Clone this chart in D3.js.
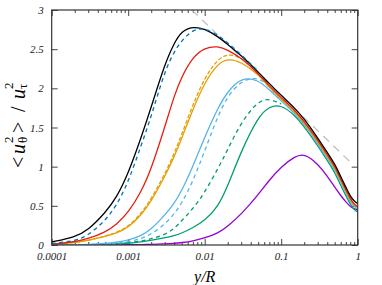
<!DOCTYPE html>
<html>
<head>
<meta charset="utf-8">
<script src="https://cdn.jsdelivr.net/npm/d3@7"></script>
<style>
  body { margin: 0; background: #fff; }
  svg { display: block; }
  .tick text { font-family: "Liberation Serif", serif; font-style: italic; font-size: 11px; fill: #222; }
  .axis path { display: none; }
  .axis line { stroke: #444; }
  .curve { fill: none; stroke-width: 1.3; }
</style>
</head>
<body>
<div id="plot"></div>
<script>
// y/R positions (shared by all curves)
const yR = [1e-4, 2e-4, 3e-4, 5e-4, 7e-4, 1e-3, 1.5e-3, 2e-3, 3e-3, 4e-3, 5e-3, 7e-3,
            0.01, 0.015, 0.02, 0.03, 0.05, 0.07, 0.1, 0.15, 0.2, 0.3, 0.4, 0.5, 0.6, 0.7, 0.8, 0.9, 1];

// <u_theta^2>/u_tau^2, one array per curve (null = not drawn)
const purple = [0, 0, 0, 0.001, 0.002, 0.003, 0.005, 0.008, 0.013, 0.02, 0.03, 0.05,
                0.09, 0.15, 0.24, 0.39, 0.64, 0.83, 1.00, 1.13, 1.17, 1.04, 0.88, 0.74, 0.63, 0.55, 0.49, 0.46, 0.45];
const green = [0, 0.001, 0.003, 0.008, 0.013, 0.02, 0.04, 0.06, 0.09, 0.12, 0.15, 0.22,
               0.31, 0.49, 0.75, 1.20, 1.64, 1.77, 1.79, 1.66, 1.51, 1.27, 1.08, 0.93, 0.76, 0.63, 0.52, 0.45, 0.42];
const greenDash = [0, 0.002, 0.004, 0.01, 0.018, 0.03, 0.05, 0.08, 0.13, 0.21, 0.31, 0.46,
                   0.67, 0.98, 1.22, 1.57, 1.84, 1.87, 1.80, null, null, null, null, null, null, null, null, null, null];
const lightBlue = [0, 0.003, 0.008, 0.02, 0.035, 0.06, 0.12, 0.20, 0.38, 0.53, 0.69, 1.00,
                   1.38, 1.76, 1.96, 2.14, 2.11, 1.98, 1.84, 1.68, 1.54, 1.30, 1.11, 0.97, 0.80, 0.67, 0.55, 0.49, 0.46];
const lightBlueDash = [0, 0.002, 0.005, 0.012, 0.02, 0.04, 0.08, 0.14, 0.26, 0.40, 0.53, 0.81,
                       1.20, 1.66, 1.90, 2.10, 2.15, 2.02, 1.85, null, null, null, null, null, null, null, null, null, null];
const orange = [0.01, 0.03, 0.06, 0.11, 0.15, 0.22, 0.39, 0.56, 0.87, 1.13, 1.36, 1.73,
                2.08, 2.32, 2.38, 2.34, 2.18, 2.01, 1.86, 1.70, 1.56, 1.32, 1.13, 0.99, 0.82, 0.69, 0.57, 0.51, 0.48];
const orangeDash = [0.01, 0.03, 0.06, 0.11, 0.16, 0.23, 0.41, 0.59, 0.90, 1.17, 1.41, 1.79,
                    2.14, 2.38, 2.44, 2.40, 2.21, null, null, null, null, null, null, null, null, null, null, null, null];
const red = [0.01, 0.04, 0.08, 0.16, 0.26, 0.41, 0.69, 0.97, 1.50, 1.91, 2.15, 2.40,
             2.52, 2.54, 2.49, 2.39, 2.19, 2.03, 1.88, 1.72, 1.58, 1.34, 1.15, 1.01, 0.84, 0.71, 0.59, 0.52, 0.49];
const black = [0.04, 0.10, 0.19, 0.41, 0.60, 0.91, 1.39, 1.76, 2.31, 2.58, 2.73, 2.79,
               2.76, 2.66, 2.56, 2.42, 2.21, 2.06, 1.91, 1.75, 1.61, 1.37, 1.18, 1.04, 0.87, 0.74, 0.62, 0.56, 0.53];
const blueDash = [0.02, 0.05, 0.12, 0.31, 0.50, 0.80, 1.29, 1.64, 2.22, 2.47, 2.61, 2.75,
                  2.77, 2.68, 2.58, 2.43, 2.22, null, null, null, null, null, null, null, null, null, null, null, null];

// log-law reference line, end points
const logLawX = [0.0068, 0.8];
const logLawY = [3.0, 1.06];

const xTicks = [1e-4, 1e-3, 1e-2, 1e-1, 1];
const xTickLabels = ["0.0001", "0.001", "0.01", "0.1", "1"];
const yTicks = [0, 0.5, 1, 1.5, 2, 2.5, 3];
const yTickLabels = ["0", "0.5", "1", "1.5", "2", "2.5", "3"];

const W = 382, H = 285;
const margin = {top: 10, right: 24.3, bottom: 40, left: 51.7};
const width = W - margin.left - margin.right,
      height = H - margin.top - margin.bottom;

const svg = d3.select("#plot").append("svg")
    .attr("width", W).attr("height", H);

const g = svg.append("g")
    .attr("transform", `translate(${margin.left},${margin.top})`);

const x = d3.scaleLog().domain([1e-4, 1]).range([0, width]);
const y = d3.scaleLinear().domain([0, 3]).range([height, 0]);

// minor ticks on the log axis
const minor = [];
for (let d = 1e-4; d < 1; d *= 10) for (let k = 2; k <= 9; k++) minor.push(d * k);

svg.append("defs").append("clipPath").attr("id", "clip")
  .append("rect").attr("width", width).attr("height", height);

// axes, ticks pointing inwards on all four sides
g.append("g").attr("class", "axis").attr("transform", `translate(0,${height})`)
  .call(d3.axisBottom(x).tickValues(xTicks).tickSize(-6).tickPadding(7)
    .tickFormat((d, i) => xTickLabels[i]));
g.append("g").attr("class", "axis").attr("transform", `translate(0,${height})`)
  .call(d3.axisBottom(x).tickValues(minor).tickSize(-3).tickFormat(""));
g.append("g").attr("class", "axis")
  .call(d3.axisTop(x).tickValues(xTicks).tickSize(-6).tickFormat(""));
g.append("g").attr("class", "axis")
  .call(d3.axisTop(x).tickValues(minor).tickSize(-3).tickFormat(""));
g.append("g").attr("class", "axis")
  .call(d3.axisLeft(y).tickValues(yTicks).tickSize(-6).tickPadding(8)
    .tickFormat((d, i) => yTickLabels[i]));
g.append("g").attr("class", "axis").attr("transform", `translate(${width},0)`)
  .call(d3.axisRight(y).tickValues(yTicks).tickSize(-6).tickFormat(""));

const plot = g.append("g").attr("clip-path", "url(#clip)");

// log law (grey, thick dashes)
plot.append("path")
  .datum(logLawX.map((v, i) => [v, logLawY[i]]))
  .attr("class", "curve")
  .attr("stroke", "#c0c0c0")
  .attr("stroke-width", 2.6)
  .attr("stroke-dasharray", "8,6")
  .attr("d", d3.line().x(d => x(d[0])).y(d => y(d[1])));

const line = d3.line()
  .defined(d => d[1] !== null)
  .x(d => x(d[0])).y(d => y(d[1]))
  .curve(d3.curveBasis);

const series = [
  {v: purple, color: "#9400d3"},
  {v: green, color: "#009e73"},
  {v: greenDash, color: "#009e73", dash: "4,3.5"},
  {v: lightBlue, color: "#56b4e9"},
  {v: lightBlueDash, color: "#56b4e9", dash: "4,3.5"},
  {v: orange, color: "#e69f00"},
  {v: orangeDash, color: "#e69f00", dash: "4,2", w: 1.6},
  {v: red, color: "#e51e10"},
  {v: black, color: "#000000"},
  {v: blueDash, color: "#0072b2", dash: "4,3.5"}
];

plot.selectAll("path.s")
  .data(series)
  .join("path")
    .attr("class", "curve s")
    .attr("stroke", d => d.color)
    .attr("stroke-width", d => d.w || 1.3)
    .attr("stroke-dasharray", d => d.dash || null)
    .attr("d", d => line(yR.map((r, i) => [r, d.v[i]])));

// frame
g.append("rect")
  .attr("width", width).attr("height", height)
  .attr("fill", "none").attr("stroke", "#333").attr("stroke-width", 1.2);

// x label
svg.append("text")
  .attr("x", margin.left + width / 2).attr("y", 282)
  .attr("text-anchor", "middle")
  .style("font-family", "Liberation Serif, serif").style("font-style", "italic")
  .style("font-size", "16px")
  .text("y/R");

// y label, pieces placed along the rotated baseline
const yl = svg.append("text")
  .attr("transform", "translate(25,124) rotate(-90)")
  .style("font-family", "Liberation Serif, serif").style("font-size", "20px");
yl.append("tspan").attr("x", -44).attr("y", 0).text("<");
yl.append("tspan").attr("x", -30).attr("y", 0).style("font-style", "italic").text("u");
yl.append("tspan").attr("x", -19).attr("y", 2).style("font-size", "13px").text("θ");
yl.append("tspan").attr("x", -19).attr("y", -12).style("font-size", "13px").text("2");
yl.append("tspan").attr("x", -9).attr("y", 0).text(">");
yl.append("tspan").attr("x", 12).attr("y", 0).text("/");
yl.append("tspan").attr("x", 25).attr("y", 0).style("font-style", "italic").text("u");
yl.append("tspan").attr("x", 35).attr("y", 2).style("font-size", "13px").text("τ");
yl.append("tspan").attr("x", 35).attr("y", -12).style("font-size", "13px").text("2");
</script>
</body>
</html>
